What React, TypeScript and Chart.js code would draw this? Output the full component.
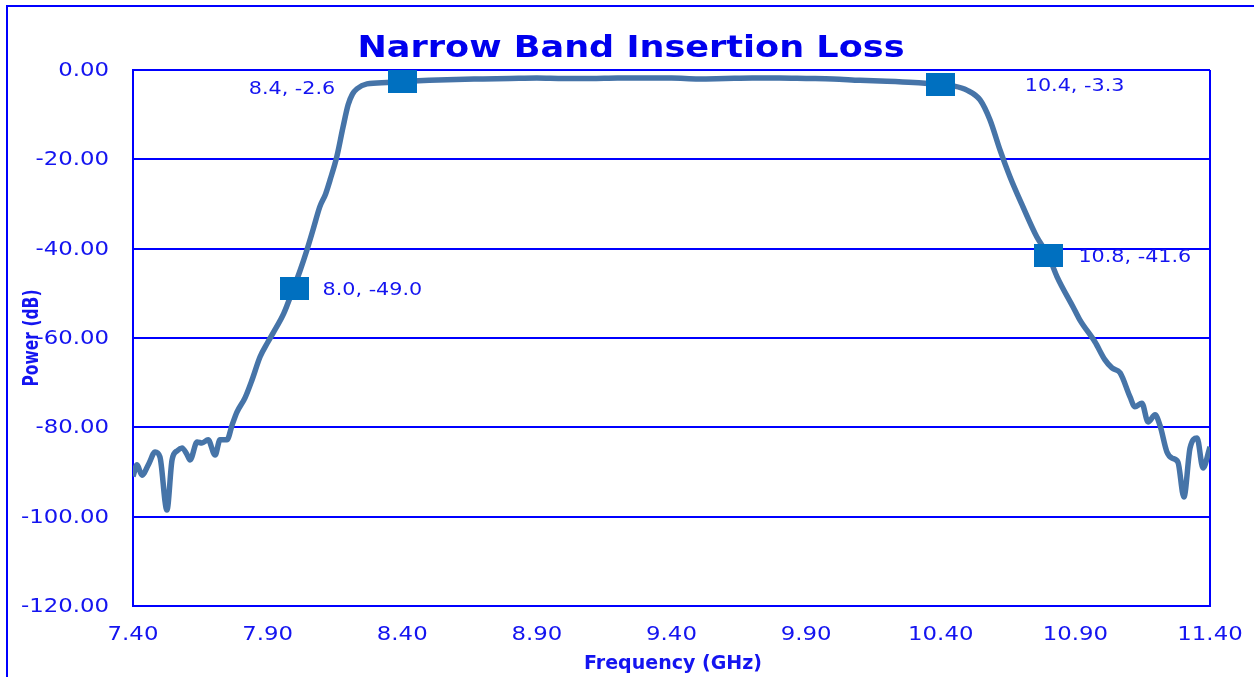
import React, { useEffect, useRef } from 'react';
import { Chart, registerables } from 'chart.js';

Chart.register(...registerables);

// ---- data ----
const freqGHz = [
  7.400, 7.415, 7.433, 7.460, 7.482, 7.500, 7.526, 7.545, 7.565, 7.582,
  7.600, 7.612, 7.638, 7.656, 7.679, 7.705, 7.723, 7.749, 7.768, 7.786,
  7.816, 7.842, 7.872, 7.900, 7.920, 7.960, 7.994, 8.020, 8.046, 8.070,
  8.094, 8.115, 8.132, 8.157, 8.180, 8.199, 8.215, 8.232, 8.269, 8.343,
  8.400, 8.500, 8.600, 8.700, 8.800, 8.900, 9.000, 9.100, 9.200, 9.300,
  9.400, 9.500, 9.600, 9.700, 9.800, 9.900, 10.000, 10.100, 10.200, 10.300,
  10.400, 10.450, 10.497, 10.546, 10.583, 10.620, 10.657, 10.705, 10.757, 10.800,
  10.832, 10.891, 10.917, 10.973, 11.010, 11.036, 11.066, 11.103, 11.121, 11.147,
  11.170, 11.196, 11.214, 11.240, 11.259, 11.281, 11.303, 11.326, 11.352, 11.374,
  11.400,
];
const powerDb = [
  -91.0, -88.4, -90.7, -88.0, -85.5, -86.6, -98.5, -87.3, -85.2, -84.6,
  -86.0, -87.3, -83.3, -83.5, -82.8, -86.2, -82.8, -82.8, -79.5, -76.6,
  -73.4, -69.4, -64.2, -61.0, -58.9, -54.5, -49.2, -45.0, -40.3, -35.5,
  -30.6, -27.8, -24.6, -19.4, -12.8, -7.8, -5.4, -4.2, -3.1, -2.8,
  -2.6, -2.3, -2.1, -2.0, -1.9, -1.8, -1.9, -1.9, -1.8, -1.8,
  -1.8, -2.0, -1.9, -1.8, -1.8, -1.9, -2.0, -2.3, -2.5, -2.8,
  -3.3, -3.6, -4.5, -6.7, -11.2, -17.9, -23.9, -30.6, -37.4, -41.6,
  -46.3, -53.0, -56.0, -60.9, -64.9, -66.7, -67.8, -73.2, -75.4, -74.6,
  -78.8, -77.2, -79.5, -85.5, -86.9, -87.8, -95.6, -84.6, -82.4, -89.1,
  -84.4,
];
const markerFreq = [8.0, 8.4, 10.4, 10.8];
const markerPower = [-49.0, -2.6, -3.3, -41.6];
const xTickValues = [7.4, 7.9, 8.4, 8.9, 9.4, 9.9, 10.4, 10.9, 11.4];
const yMin = -120;
const yMax = 0;
const yStep = 20;
const titleText = 'Narrow Band Insertion Loss';
const xTitleText = 'Frequency (GHz)';
const yTitleText = 'Power (dB)';

// ---- styling ----
const BLUE = '#0000FF';
const TEXT_BLUE = '#1414F0';
const LINE_COLOR = '#4674A8';
const MARKER_COLOR = '#0070C0';
const FONT = "'DejaVu Sans', Verdana, sans-serif";
const W = 1254;
const H = 677;
const TEXT_STRETCH = 1.17;
const labelPlacement = [
  { align: 'left', dx: 28, dy: 1 },
  { align: 'right', dx: -67, dy: 8 },
  { align: 'left', dx: 84, dy: 2 },
  { align: 'left', dx: 30, dy: 2 },
];

function makeMarker(): HTMLCanvasElement {
  const c = document.createElement('canvas');
  c.width = 29;
  c.height = 23;
  const g = c.getContext('2d')!;
  g.fillStyle = MARKER_COLOR;
  g.fillRect(0, 0, 29, 23);
  return c;
}

function drawScaled(ctx: CanvasRenderingContext2D, text: string, x: number, y: number, sx: number, sy = 1) {
  ctx.save();
  ctx.translate(x, y);
  ctx.scale(sx, sy);
  ctx.fillText(text, 0, 0);
  ctx.restore();
}

const decorPlugin = {
  id: 'decor',
  beforeDraw(chart: any) {
    const ctx = chart.ctx;
    ctx.save();
    ctx.fillStyle = '#ffffff';
    ctx.fillRect(0, 0, W, H);
    ctx.strokeStyle = BLUE;
    ctx.lineWidth = 2;
    ctx.strokeRect(7, 6, W + 20, H + 20);
    ctx.restore();
  },
  afterDraw(chart: any) {
    const ctx = chart.ctx;
    ctx.save();
    // title
    ctx.fillStyle = '#0000EE';
    ctx.font = `bold 31px ${FONT}`;
    ctx.textAlign = 'center';
    ctx.textBaseline = 'alphabetic';
    const tw = ctx.measureText(titleText).width;
    drawScaled(ctx, titleText, 631, 57, 547 / tw);
    // axis tick labels (from the library's scales)
    ctx.fillStyle = TEXT_BLUE;
    ctx.font = `19.5px ${FONT}`;
    ctx.textBaseline = 'middle';
    const xs = chart.scales.x;
    ctx.textAlign = 'center';
    xs.ticks.forEach((t: any) => {
      drawScaled(ctx, Number(t.value).toFixed(2), xs.getPixelForValue(t.value), 635, TEXT_STRETCH);
    });
    const ys = chart.scales.y;
    ctx.textAlign = 'right';
    ys.ticks.forEach((t: any) => {
      drawScaled(ctx, Number(t.value).toFixed(2), 109, ys.getPixelForValue(t.value) + 1, TEXT_STRETCH);
    });
    // x title
    ctx.textBaseline = 'alphabetic';
    ctx.textAlign = 'center';
    ctx.font = `bold 19.5px ${FONT}`;
    const xw = ctx.measureText(xTitleText).width;
    drawScaled(ctx, xTitleText, 673, 669, 178 / xw);
    // y title
    ctx.save();
    ctx.translate(38, 338);
    ctx.rotate(-Math.PI / 2);
    ctx.font = `bold 19px ${FONT}`;
    ctx.textAlign = 'center';
    const yw = ctx.measureText(yTitleText).width;
    ctx.scale(97 / yw, 1.12);
    ctx.fillText(yTitleText, 0, 0);
    ctx.restore();
    // marker labels
    const meta = chart.getDatasetMeta(0);
    ctx.font = `18px ${FONT}`;
    ctx.textBaseline = 'middle';
    meta.data.forEach((pt: any, i: number) => {
      const p = labelPlacement[i];
      ctx.textAlign = p.align;
      const txt = `${markerFreq[i].toFixed(1)}, ${markerPower[i].toFixed(1)}`;
      drawScaled(ctx, txt, pt.x + p.dx, pt.y + p.dy, 1.15);
    });
    ctx.restore();
  },
};

export default function App() {
  const ref = useRef<HTMLCanvasElement | null>(null);
  useEffect(() => {
    if (!ref.current) return;
    const marker = makeMarker();
    const chart = new Chart(ref.current, {
      type: 'line',
      data: {
        datasets: [
          {
            type: 'scatter',
            data: markerFreq.map((x, i) => ({ x, y: markerPower[i] })),
            pointStyle: marker,
            pointRadius: 15,
            backgroundColor: MARKER_COLOR,
            borderColor: MARKER_COLOR,
            showLine: false,
            order: 0,
          } as any,
          {
            type: 'line',
            data: freqGHz.map((x, i) => ({ x, y: powerDb[i] })),
            borderColor: LINE_COLOR,
            borderWidth: 5.5,
            pointRadius: 0,
            cubicInterpolationMode: 'monotone',
            fill: false,
            order: 1,
          } as any,
        ],
      },
      options: {
        animation: false,
        responsive: false,
        events: [],
        layout: { padding: { left: 0, top: 70, right: 44, bottom: 0 } },
        plugins: {
          legend: { display: false },
          tooltip: { enabled: false },
          title: { display: false },
        },
        scales: {
          x: {
            type: 'linear',
            min: xTickValues[0],
            max: xTickValues[xTickValues.length - 1],
            afterBuildTicks: (s: any) => {
              s.ticks = xTickValues.map((v) => ({ value: v }));
            },
            afterFit: (s: any) => {
              s.height = 71;
            },
            grid: {
              color: (c: any) =>
                c.index === 0 || c.index === xTickValues.length - 1 ? BLUE : 'rgba(0,0,0,0)',
              lineWidth: 2,
              drawTicks: false,
            },
            border: { display: true, color: BLUE, width: 2 },
            ticks: { display: false, autoSkip: false, maxRotation: 0 },
          },
          y: {
            type: 'linear',
            min: yMin,
            max: yMax,
            afterFit: (s: any) => {
              s.width = 133;
            },
            grid: { color: BLUE, lineWidth: 2, drawTicks: false },
            border: { display: true, color: BLUE, width: 2 },
            ticks: { display: false, stepSize: yStep },
          },
        },
      } as any,
      plugins: [decorPlugin as any],
    });
    return () => chart.destroy();
  }, []);
  return (
    <div style={{ position: 'fixed', left: 0, top: 0, width: W, height: H, background: '#fff' }}>
      <canvas ref={ref} width={W} height={H} style={{ display: 'block', width: W, height: H }} />
    </div>
  );
}
